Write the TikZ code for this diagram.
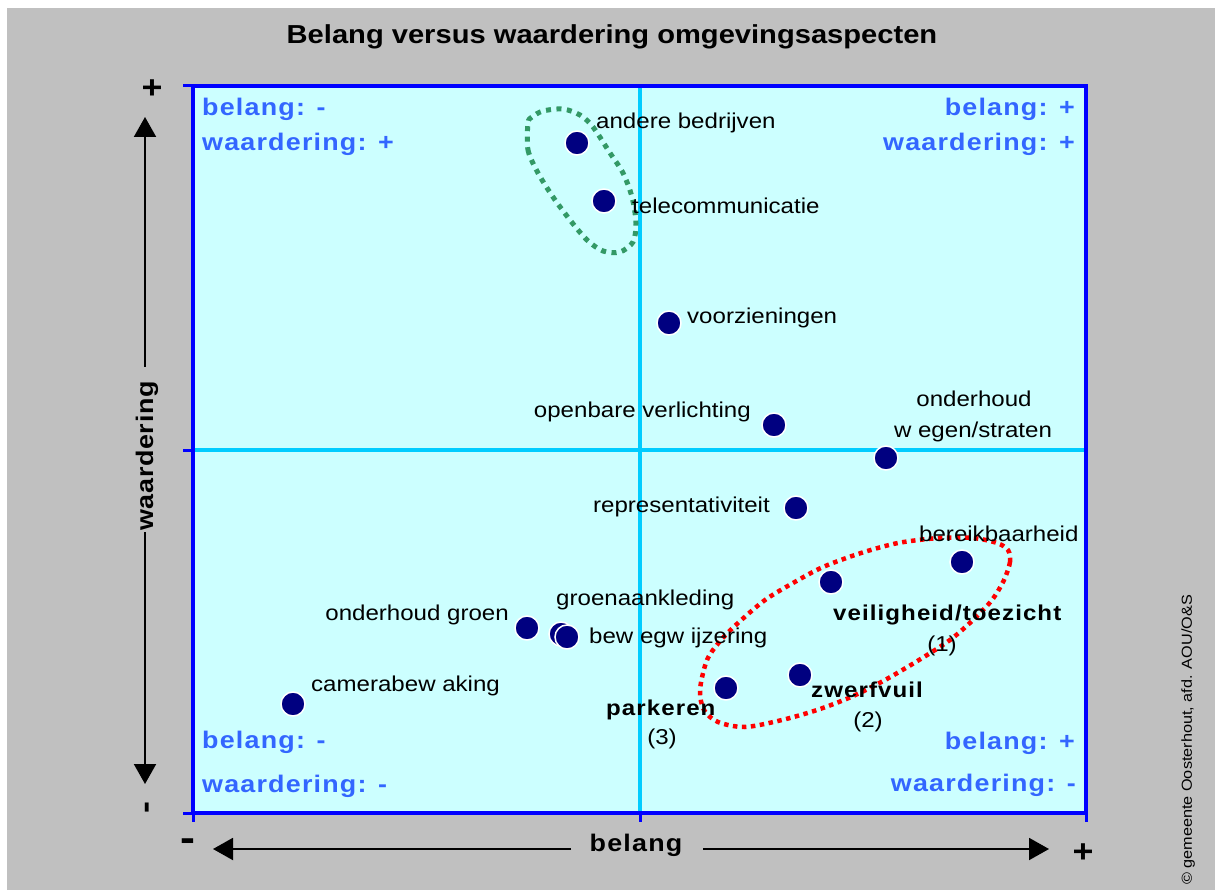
\documentclass[tikz,border=0pt]{standalone}
\usepackage{fontspec}
\setmainfont{Liberation Sans}[FakeStretch=1.12]
\newfontfamily\spacedfont{Liberation Sans}[FakeStretch=1.12,LetterSpace=5]
\newfontfamily\axisfont{Liberation Sans}[FakeStretch=1.12,LetterSpace=3]
\usetikzlibrary{arrows.meta}
\definecolor{bggray}{HTML}{C0C0C0}
\definecolor{plotfill}{HTML}{CCFFFF}
\definecolor{frameblue}{HTML}{0000FF}
\definecolor{midcyan}{HTML}{00CCFF}
\definecolor{quadblue}{HTML}{3366FF}
\definecolor{dotnavy}{HTML}{000080}
\definecolor{ringgreen}{HTML}{339966}
\definecolor{ringred}{HTML}{FF0000}
\tikzset{
  datapt/.style={circle, fill=dotnavy, draw=white, line width=1.5pt, minimum size=24pt, inner sep=0pt},
  lbl/.style={font=\fontsize{21.5}{24}\selectfont, inner sep=0pt, text height=15.5pt, text depth=4.5pt},
  blbl/.style={font=\fontsize{21.5}{24}\selectfont\spacedfont\bfseries, inner sep=0pt, text height=15.5pt, text depth=4.5pt},
  quad/.style={font=\fontsize{24}{28}\selectfont\spacedfont\bfseries, text=quadblue, inner sep=0pt, text height=17pt, text depth=5pt},
  axlbl/.style={font=\fontsize{24}{28}\selectfont\axisfont\bfseries, inner sep=0pt, text height=17pt, text depth=5pt},
  sign/.style={font=\fontsize{32}{34}\selectfont\bfseries, inner sep=0pt},
  axarrow/.style={line width=2pt, -{Triangle[length=20pt,width=22pt]}},
  tick/.style={frameblue, line width=3pt},
  ringg/.style={ringgreen, line width=5pt, dash pattern=on 5pt off 5.5pt},
  ringr/.style={ringred, line width=4.5pt, dash pattern=on 4.5pt off 4.5pt}
}
\begin{document}
\begin{tikzpicture}[x=1pt, y=-1pt]
\useasboundingbox (0,0) rectangle (1215,890);
\fill[white] (0,0) rectangle (1215,890);
\fill[bggray] (7,8) rectangle (1215,890);

% title
\node[font=\fontsize{26}{30}\selectfont\bfseries, inner sep=0pt] (title) at (612,37) {Belang versus waardering omgevingsaspecten};

% plot area
\fill[plotfill] (193,86) rectangle (1086,813);
\draw[midcyan, line width=3.5pt] (640,86) -- (640,813);
\draw[midcyan, line width=3.5pt] (193,450) -- (1086,450);
% ticks
\draw[tick] (183,86) -- (193,86);
\draw[tick] (183,450) -- (193,450);
\draw[tick] (183,813) -- (193,813);
\draw[tick] (193,813) -- (193,822);
\draw[tick] (640,813) -- (640,822);
\draw[tick] (1086,813) -- (1086,822);
\draw[frameblue, line width=4pt] (193,86) rectangle (1086,813);

% quadrant labels
\node[quad, anchor=west] (q1a) at (202,110) {belang: -};
\node[quad, anchor=west] (q1b) at (202,145) {waardering: +};
\node[quad, anchor=east] (q2a) at (1075,110) {belang: +};
\node[quad, anchor=east] (q2b) at (1075,145) {waardering: +};
\node[quad, anchor=west] (q3a) at (202,742) {belang: -};
\node[quad, anchor=west] (q3b) at (202,786) {waardering: -};
\node[quad, anchor=east] (q4a) at (1075,743) {belang: +};
\node[quad, anchor=east] (q4b) at (1076,785) {waardering: -};

% rings
\draw[ringg] plot[smooth cycle] coordinates {(528,123) (528,150) (538,173) (553,197) (570,220) (587,240) (603,251) (620,252) (633,242) (636,223) (632,197) (623,173) (610,153) (593,127) (580,115) (563,109) (543,111) (532,117)};
\draw[ringr] plot[smooth cycle] coordinates {(1008,550) (1010,562) (1004,580) (992,600) (973,620) (950,640) (919,660) (885,680) (851,697) (817,710) (782,720) (745,727) (718,722) (704,710) (700,690) (707,660) (721,640) (738,623) (765,600) (793,583) (823,567) (861,553) (898,543) (939,538) (973,538) (997,543)};

% data points
\node[datapt] (p-andere) at (577,143) {};
\node[datapt] (p-tele) at (604,201) {};
\node[datapt] (p-voorz) at (669,323) {};
\node[datapt] (p-openb) at (774,425) {};
\node[datapt] (p-onderh) at (886,458) {};
\node[datapt] (p-repr) at (796,508) {};
\node[datapt] (p-bereik) at (962,562) {};
\node[datapt] (p-veil) at (831,582) {};
\node[datapt] (p-zwerf) at (800,675) {};
\node[datapt] (p-park) at (726,688) {};
\node[datapt] (p-ogroen) at (527,628) {};
\node[datapt] (p-groen) at (561,634) {};
\node[datapt] (p-bewegw) at (567,637) {};
\node[datapt] (p-camera) at (293,704) {};

% data labels
\node[lbl, anchor=west] (l-andere) at (596,123) {andere bedrijven};
\node[lbl, anchor=west] (l-tele) at (632,208) {telecommunicatie};
\node[lbl, anchor=west] (l-voorz) at (687,318) {voorzieningen};
\node[lbl, anchor=east] (l-openb) at (751,412) {openbare verlichting};
\node[lbl] (l-onderh1) at (974,401) {onderhoud};
\node[lbl] (l-onderh2) at (973,432) {w egen/straten};
\node[lbl, anchor=east] (l-repr) at (770,507) {representativiteit};
\node[lbl, anchor=west] (l-bereik) at (919,536) {bereikbaarheid};
\node[blbl, anchor=west] (l-veil) at (833,615) {veiligheid/toezicht};
\node[lbl] (l-veil2) at (942,646) {(1)};
\node[blbl, anchor=west] (l-zwerf) at (811,692) {zwerfvuil};
\node[lbl] (l-zwerf2) at (868,722) {(2)};
\node[blbl, anchor=west] (l-park) at (606,710) {parkeren};
\node[lbl] (l-park2) at (662,739) {(3)};
\node[lbl, anchor=east] (l-ogroen) at (509,615) {onderhoud groen};
\node[lbl, anchor=west] (l-groen) at (556,600) {groenaankleding};
\node[lbl, anchor=west] (l-bewegw) at (589,638) {bew egw ijzering};
\node[lbl, anchor=west] (l-camera) at (311,686) {camerabew aking};

% y axis
\node[sign] (yplus) at (152,89) {+};
\node[sign, rotate=90] (yminus) at (150,808) {-};
\node[axlbl, rotate=90] (ylab) at (147,456) {waardering};
\coordinate (yupstart) at (145,367);
\coordinate (yuptip) at (145,117);
\coordinate (ydnstart) at (145,532);
\coordinate (ydntip) at (145,784);
\draw[axarrow] (yupstart) -- (yuptip);
\draw[axarrow] (ydnstart) -- (ydntip);

% x axis
\node[sign, font=\fontsize{40}{42}\selectfont\bfseries] (xminus) at (188,845) {-};
\node[sign] (xplus) at (1083,853) {+};
\node[axlbl, font=\fontsize{24}{28}\selectfont\spacedfont\bfseries] (xlab) at (636,845) {belang};
\coordinate (xlstart) at (571,849);
\coordinate (xltip) at (213,849);
\coordinate (xrstart) at (703,849);
\coordinate (xrtip) at (1049,849);
\draw[axarrow] (xlstart) -- (xltip);
\draw[axarrow] (xrstart) -- (xrtip);

% copyright
\node[font=\fontsize{14.5}{16}\selectfont, inner sep=0pt, rotate=90] (copy) at (1188,740) {\textcopyright\ gemeente Oosterhout, afd. AOU/O\&S};
\end{tikzpicture}
\end{document}
